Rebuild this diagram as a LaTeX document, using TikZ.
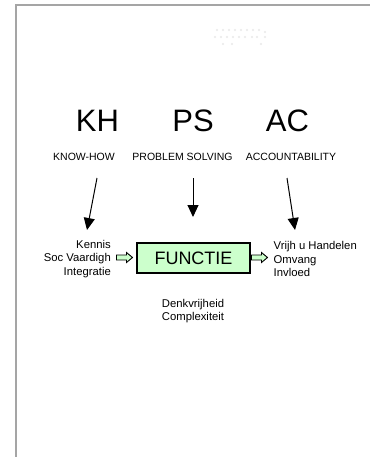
\documentclass[tikz,border=0pt]{standalone}
\usepackage{fontspec}
\setmainfont{Liberation Sans}
\usetikzlibrary{arrows.meta}
\definecolor{boxgreen}{RGB}{204,255,204}
\definecolor{pageedge}{RGB}{165,165,165}
\definecolor{faintdot}{RGB}{232,232,232}
\begin{document}
\begin{tikzpicture}[x=1pt,y=-1pt,
  big/.style={font=\fontsize{31}{31}\selectfont, inner sep=0pt, anchor=base},
  sub/.style={font=\fontsize{10.5}{12}\selectfont, inner sep=0pt, anchor=base},
  small/.style={font=\fontsize{11.3}{13.5}\selectfont, inner sep=0pt},
  downarrow/.style={line width=1pt, -{Triangle[width=11pt,length=12pt]}},
  blockarrow/.style={draw=black, fill=boxgreen, line width=0.9pt, line join=miter},
  blockarrowpic/.pic={
    \path[blockarrow] (-8,-2.5) -- (2,-2.5) -- (2,-5) -- (8,0) -- (2,5) -- (2,2.5) -- (-8,2.5) -- cycle;
  },
  dot/.style={fill=faintdot, draw=none}]
  \useasboundingbox (0,0) rectangle (370,457);
  \fill[white] (0,0) rectangle (370,457);

  % page outline
  \draw[pageedge, line width=1.6pt] (16,457) -- (16,5) -- (370,5);

  % faint dot pattern near the top
  \foreach \x in {217,223,229,235,241,247,253,259} \fill[dot] (\x,30) circle (1.1);
  \foreach \x in {215,221,227,233,239,245,252,257,265} \fill[dot] (\x,37) circle (1.1);
  \foreach \x in {223,232,261} \fill[dot] (\x,44) circle (1.1);
  \fill[dot] (265,32) circle (1.1);

  % headline letters
  \node[big] (kh) at (97.5,131.5) {KH};
  \node[big] (ps) at (193,131.5) {PS};
  \node[big] (ac) at (287.5,131.5) {AC};

  % subtitles
  \node[sub] (khsub) at (84,160.5) {KNOW-HOW};
  \node[sub] (pssub) at (182.5,160.5) {PROBLEM SOLVING};
  \node[sub] (acsub) at (291,160.5) {ACCOUNTABILITY};

  % central box
  \node[draw=black, line width=1.3pt, fill=boxgreen, minimum width=113pt, minimum height=30pt,
        font=\fontsize{18}{18}\selectfont, inner sep=0pt] (fn) at (193.5,258) {FUNCTIE};

  % side texts
  \node[small, align=right, anchor=east] (left) at (111,259) {Kennis\\Soc Vaardigh\\Integratie};
  \node[small, align=left, anchor=west] (right) at (273.5,259) {Vrijh u Handelen\\Omvang\\Invloed};
  \node[small, align=center] (below) at (193,311) {Denkvrijheid\\Complexiteit};

  % block arrows into and out of the box
  \pic at (124.5,257.5) {blockarrowpic};
  \pic at (259.5,257.5) {blockarrowpic};

  % arrow end points
  \coordinate (khs) at (97,178);
  \coordinate (khe) at (87,230);
  \coordinate (pss) at (193,178);
  \coordinate (pse) at (193,217);
  \coordinate (acs) at (287,178);
  \coordinate (ace) at (295,230);

  \draw[downarrow] (khs) -- (khe);
  \draw[downarrow] (pss) -- (pse);
  \draw[downarrow] (acs) -- (ace);
\end{tikzpicture}
\end{document}
